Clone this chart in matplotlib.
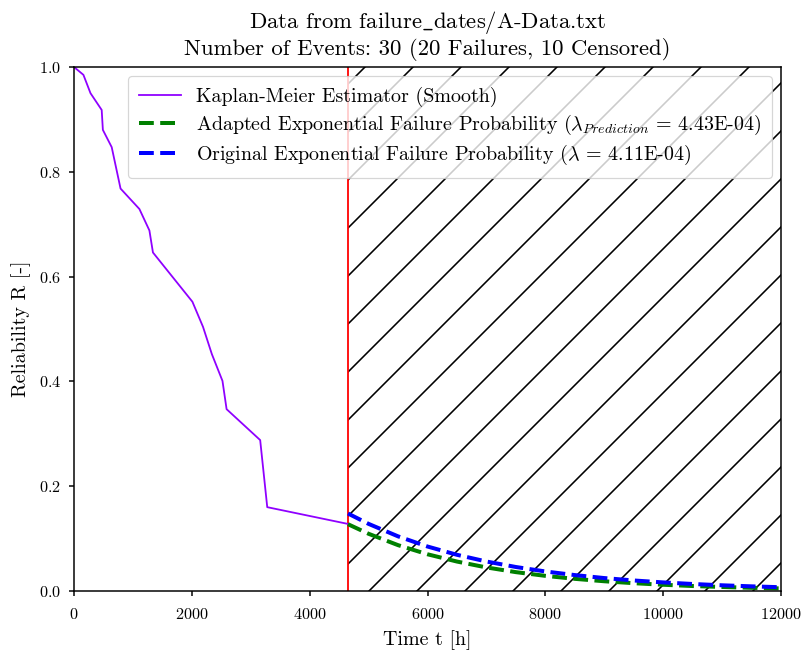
import numpy as np
import matplotlib
matplotlib.use('Agg')
import matplotlib.pyplot as plt

# dpi chosen so the '/' hatch spacing (dpi/3 px) matches the reference
DPI = 144
PX = 72 / DPI  # points per output pixel

km_t = [0, 160, 280, 470, 490, 640, 790, 1110, 1280, 1340, 2010, 2190, 2340, 2520, 2590, 3160, 3280, 4650]
km_r = [1.0, 0.985, 0.95, 0.918, 0.88, 0.847, 0.768, 0.729, 0.688, 0.646, 0.552, 0.504, 0.452, 0.401, 0.347, 0.288, 0.16, 0.128]

t_cut = 4650
t_pred = [4650, 5000, 5500, 6000, 6500, 7000, 7500, 8000, 8500, 9000, 9500, 10000, 10500, 11000, 11500, 12000]
r_adapted = [0.1275, 0.1092, 0.0875, 0.0701, 0.0562, 0.0450, 0.0360, 0.0289, 0.0232, 0.0186, 0.0149, 0.0119, 0.0095, 0.0077, 0.0061, 0.0049]
r_original = [0.1479, 0.1281, 0.1043, 0.0849, 0.0691, 0.0563, 0.0458, 0.0373, 0.0304, 0.0247, 0.0201, 0.0164, 0.0134, 0.0109, 0.0089, 0.0072]

lam_pred = "4.43E-04"
lam_orig = "4.11E-04"

plt.rcParams.update({
    'font.family': 'serif',
    'font.serif': ['cmr10', 'DejaVu Serif'],
    'mathtext.fontset': 'cm',
    'axes.formatter.use_mathtext': True,
    'font.size': 16.2 * PX,
    'axes.linewidth': 1.5 * PX,
    'patch.linewidth': 1.2 * PX,
    'xtick.major.width': 1.5 * PX,
    'ytick.major.width': 1.5 * PX,
    'xtick.major.size': 5 * PX,
    'ytick.major.size': 5 * PX,
    'xtick.major.pad': 11 * PX,
    'ytick.major.pad': 8 * PX,
    'hatch.linewidth': 1.6 * PX,
    'legend.edgecolor': '0.8',
})

fig, ax = plt.subplots(figsize=(809 / DPI, 651 / DPI), dpi=DPI)
fig.subplots_adjust(left=74 / 809, right=781 / 809, bottom=1 - 591 / 651, top=1 - 67 / 651)

ax.axvspan(t_cut, 12000, fill=False, hatch='/', edgecolor='black', linewidth=0)
ax.axvline(t_cut, color='red', linewidth=1.8 * PX)

ax.plot(km_t, km_r, color='#8f00ff', linewidth=1.8 * PX, label='Kaplan-Meier Estimator (Smooth)')
ax.plot(t_pred, r_adapted, '--', color='green', linewidth=4 * PX,
        label=r'Adapted Exponential Failure Probability ($\lambda_{Prediction}$ = ' + lam_pred + ')')
ax.plot(t_pred, r_original, '--', color='blue', linewidth=4 * PX,
        label=r'Original Exponential Failure Probability ($\lambda$ = ' + lam_orig + ')')

ax.set_xlim(0, 12000)
ax.set_ylim(0, 1)
ax.set_xlabel('Time t [h]', fontsize=20 * PX, labelpad=8 * PX)
ax.set_ylabel('Reliability R [-]', fontsize=20 * PX, labelpad=8 * PX)
ax.set_title('Data from failure$\\_$dates/A-Data.txt\nNumber of Events: 30 (20 Failures, 10 Censored)',
             fontsize=22.7 * PX, pad=12 * PX, linespacing=1.1)
ax.legend(loc='upper right', fontsize=20 * PX, borderpad=0.55, handlelength=2.1, handletextpad=0.75,
          labelspacing=0.3, borderaxespad=0.45)

fig.savefig('out.png', dpi=DPI)
